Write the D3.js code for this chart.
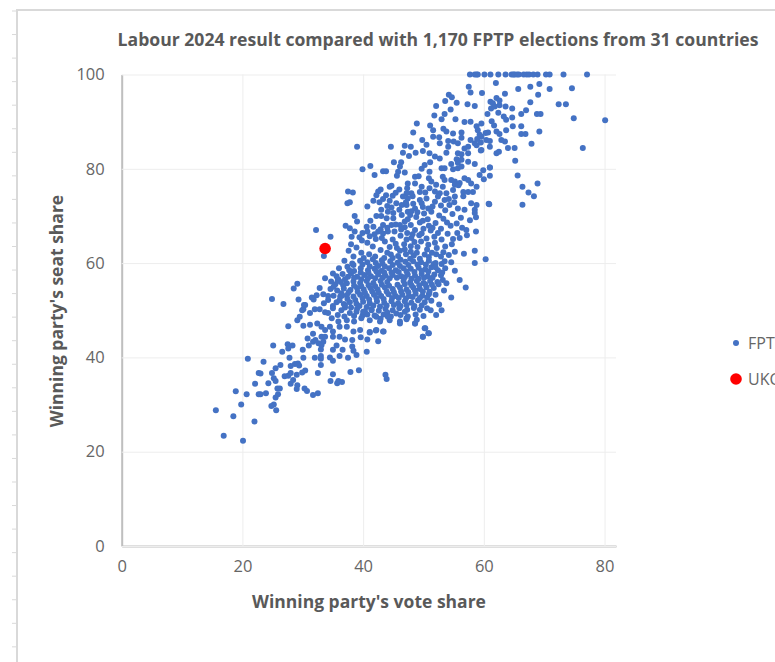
<!DOCTYPE html>
<html>
<head>
<meta charset="utf-8">
<script src="https://cdn.jsdelivr.net/npm/d3@7"></script>
<style>
  html, body { margin: 0; padding: 0; background: #fff; overflow: hidden; }
  text { font-family: "Open Sans", sans-serif; }
</style>
</head>
<body>
<div id="chart"></div>
<script>
var chartTitle = "Labour 2024 result compared with 1,170 FPTP elections from 31 countries";
var xLabel = "Winning party's vote share";
var yLabel = "Winning party's seat share";
var xTicks = [0, 20, 40, 60, 80];
var yTicks = [0, 20, 40, 60, 80, 100];
var legendNames = ["FPT", "UKC"];
var ukResult = [[33.7, 63.1]];

// [vote share, seat share]
var seatsAt100 = [57.7, 58.5, 58.8, 59.0, 60.1, 61.1, 62.4, 63.6, 64.6, 64.9, 65.1, 65.5, 65.8, 66.6, 67.1, 67.5, 68.2, 68.9, 70.3, 70.9, 73.2, 77.1];

var upperPoints = [
  [62.0,98.2],[57.5,97.4],[57.8,96.2],[59.7,96.1],[65.7,96.9],[67.7,97.4],[69.2,98.0],[70.9,96.9],[74.6,97.1],[69.0,95.7],
  [63.5,95.9],[54.2,95.7],[54.7,95.2],[53.6,94.4],[55.5,94.0],[52.1,93.3],[57.3,93.7],[58.5,93.3],[54.5,92.6],[67.7,94.1],
  [72.4,93.7],[73.6,93.7],[80.1,90.3],[74.9,90.7],[76.4,84.4],
  [61.1,94.2],[61.5,93.9],[62.1,95.0],[62.6,94.5],[61.8,93.2],[61.2,92.8],[62.6,93.5],[63.6,93.2],[64.7,92.8],[60.6,91.6],
  [62.4,91.9],[63.3,91.1],[63.7,90.4],[64.7,90.9],[66.2,91.6],[67.0,92.4],[68.8,91.6],[69.4,91.6],[61.3,90.1],[61.7,89.2],
  [64.8,89.0],[66.2,89.0],[63.7,88.2],[62.1,87.9],[62.6,87.4],[66.2,87.4],[66.9,87.4],[69.2,87.9],[60.7,87.7],[67.9,85.3],
  [62.9,86.1],[63.5,85.8],[61.0,84.7],[64.0,84.4],[65.1,84.4],[62.1,83.3],[62.5,83.6],[59.5,83.9],[65.2,81.7],[61.0,80.3],
  [65.6,78.6],[66.4,76.2],[68.9,76.9],[67.4,75.0],[68.3,74.2],[66.4,72.4],[60.8,72.6],
  [56.8,89.9],[57.8,90.0],[58.8,89.0],[59.6,89.6],[59.0,88.2],[55.3,90.5],[53.0,90.5],[51.8,91.3],[53.5,91.6],[48.9,89.6],
  [51.1,89.2],[51.6,88.2],[48.3,87.7],[53.3,88.5],[53.8,87.9],[54.9,87.5],[56.3,87.7],[56.3,86.6],[51.6,86.8],[52.6,86.7],
  [54.1,85.9],[55.0,85.8],[55.7,85.4],[57.8,86.1],[58.5,85.4],[59.6,86.8],[60.4,86.1],[61.0,85.9],[49.8,86.1],[50.5,85.1],
  [52.7,85.4],[54.1,84.7],[57.4,84.7],[56.8,84.3],[58.8,85.0],[59.3,87.2],[58.9,86.3],[60.3,87.6],[59.5,85.6],
  [39.0,84.7],[44.6,84.7],[46.9,84.9],[47.9,84.7]
];

var middlePoints = [
  [46.6,83.4],[47.6,82.7],[48.7,83.4],[49.9,83.8],[51.0,83.3],[51.9,82.6],[52.7,82.2],[53.8,83.4],[55.7,83.3],[56.3,83.1],
  [55.5,82.0],[56.3,81.9],[54.6,81.0],[55.7,81.3],[57.4,81.5],[58.5,81.0],[57.4,83.3],[59.6,84.0],
  [45.1,81.4],[46.3,81.4],[41.2,80.6],[39.9,79.9],[41.9,78.7],[43.3,79.5],[43.8,79.5],[46.1,80.5],[45.8,79.4],[45.6,78.5],[46.9,79.2],
  [49.7,80.0],[50.2,80.8],[51.1,81.4],[51.0,79.4],[53.0,80.1],[53.5,80.1],[54.9,79.9],[55.7,80.1],[56.3,80.5],
  [59.3,78.7],[59.9,79.7],[61.0,80.3],[61.0,78.5],[60.0,77.8],[48.6,78.3],[49.2,78.4],[47.4,76.9],[48.6,76.9],[50.9,78.0],
  [51.3,77.3],[52.1,76.6],[53.2,78.3],[53.5,77.6],[53.2,76.2],[54.6,77.6],[55.2,77.3],[56.0,77.0],[56.8,78.0],[57.4,77.6],
  [55.2,76.6],[55.8,76.5],[58.8,76.2],[57.9,76.9],[58.2,75.1],[57.4,75.1],[56.6,75.1],[56.6,74.2],[54.9,75.5],[53.8,74.8],
  [52.7,74.8],[51.0,75.9],[49.7,76.2],[49.4,75.1],[48.0,74.8],[47.2,74.8],[46.6,74.1],[44.7,76.4],[44.4,76.2],[42.9,75.6],
  [42.5,75.2],[42.2,74.4],[41.7,73.2],[40.7,72.0],[43.8,74.4],[44.9,74.3],[44.4,73.2],
  [37.5,75.2],[38.3,75.0],[37.4,72.7],[37.8,72.9],[38.6,70.0],[39.0,68.8],[37.1,67.9],[37.8,67.4],[38.6,66.7],[38.1,65.6],
  [40.6,67.7],[41.2,69.0],[40.7,66.7],[41.7,67.7],[42.2,70.0],[43.0,70.0],[43.0,71.3],[44.7,71.8],[44.1,70.9],[45.0,70.6],
  [45.0,69.5],[43.9,69.5],[44.7,68.1],[43.3,68.1],[42.5,66.7],[43.3,66.3],[44.1,66.7],[45.2,66.7],[46.1,68.1],[46.9,68.8],
  [46.4,70.2],[47.4,70.9],[46.4,72.3],[47.4,73.7],[47.2,72.3],[48.6,71.6],[49.4,73.4],[49.7,72.7],[50.5,73.7],[50.8,71.6],
  [51.9,73.0],[52.4,74.1],[53.5,73.4],[54.3,72.3],[55.2,74.1],[55.7,71.6],[56.8,71.3],[57.9,72.7],[58.8,72.3],[60.9,72.5],
  [58.5,71.3],[58.5,70.6],[57.7,69.1],[58.7,69.7],[57.1,67.0],[58.7,66.7],[56.2,69.6],[55.5,68.4],[54.8,70.4],[53.6,71.2],
  [52.6,70.1],[51.5,72.0],[50.1,70.5],[48.8,69.8],[47.9,68.1],[49.4,68.6],[50.7,69.3],[52.0,68.5],[53.3,69.4],[54.5,67.9],
  [56.4,67.5],[55.6,66.4],[54.0,66.2],[52.9,67.3],[51.2,66.9],[50.0,67.3],[48.6,67.0],[47.3,66.4],[46.2,65.8],[48.0,65.3],
  [49.3,65.9],[50.5,65.2],[51.8,65.6],[53.0,65.0],[54.9,65.1],[56.0,65.3],[57.2,65.9],
  [42.1,65.1],[43.6,64.6],[44.9,65.0],[46.8,64.0],[47.9,63.6],[45.6,63.2],[44.4,63.4],[42.9,62.8],[41.6,63.5],[40.7,64.3],
  [49.0,63.4],[50.8,63.9],[52.2,63.2],[53.6,63.5],[54.7,64.0],[55.2,62.4],[56.7,62.0],[58.5,62.6],[54.2,61.7],[52.9,61.4],
  [51.4,62.2],[50.2,61.8],[48.4,61.6],[47.1,61.9],[45.8,61.5],[44.6,61.8],[43.5,61.1],[42.0,61.4],[41.0,61.9],[39.7,62.2],
  [38.4,61.4],[37.6,62.6],[38.9,63.3],[39.8,64.8],[38.0,64.0],[36.9,60.5],
  [58.5,60.0],[60.3,60.8],[54.6,60.2],[53.5,60.4],[52.0,60.0],[50.9,60.5],[49.6,60.2],[48.3,60.4],[47.0,60.3],[45.7,60.1],
  [44.5,60.4],[43.2,59.9],[42.1,60.0],[40.7,60.2],[39.5,60.5],[38.2,59.9],[37.4,59.2],[38.4,59.6],[36.0,58.9],[35.0,57.8],
  [33.7,56.8],[35.9,56.5],[37.5,57.1],[55.2,58.4],[56.0,56.4],[57.0,54.8],[54.6,52.7],[53.4,54.2],[53.8,55.7],[53.2,56.4]
];

var densePoints = [
  [53.6,58.9],[52.4,58.5],[51.3,59.1],[50.3,58.7],[49.2,59.0],[47.9,58.8],[46.7,58.9],[45.4,58.5],[44.3,58.9],[43.1,58.4],
  [41.9,58.8],[40.8,58.5],[39.6,58.9],[38.5,58.3],[52.9,57.4],[51.8,57.6],[50.7,57.2],[49.7,57.7],[48.6,57.3],[47.4,57.6],
  [46.3,57.2],[44.9,57.5],[43.7,57.3],[42.5,57.6],[41.3,57.2],[40.2,57.5],[39.0,57.1],[38.0,57.8],[36.6,57.7],
  [52.3,56.0],[51.1,56.2],[50.0,55.8],[48.9,56.2],[47.8,55.9],[46.7,56.2],[44.0,56.0],[42.9,56.2],[41.7,55.8],[40.6,56.2],
  [39.5,55.8],[38.4,56.1],[37.3,55.7],[36.3,56.0],[34.7,56.1],[51.7,54.7],[50.5,54.9],[49.4,54.5],[48.3,54.8],[47.2,54.4],
  [46.1,54.8],[44.9,54.5],[43.6,54.8],[42.4,54.4],[41.2,54.7],[40.1,54.4],[39.0,54.7],[37.9,54.3],[36.8,54.6],[35.7,54.2],
  [34.6,54.5],[52.0,53.3],[50.9,53.4],[49.8,53.1],[48.7,53.5],[47.6,53.0],[46.5,53.3],[45.4,53.0],[44.2,53.4],[43.0,53.0],
  [41.8,53.3],[40.6,53.0],[39.5,53.3],[38.4,52.9],[37.3,53.2],[36.2,52.9],[35.1,53.1],
  [51.3,52.0],[50.2,51.7],[49.1,52.1],[48.0,51.6],[46.9,51.9],[45.8,51.5],[44.7,51.9],[43.5,51.6],[42.3,51.9],[41.1,51.5],
  [40.0,51.8],[38.9,51.4],[37.8,51.7],[36.8,51.3],[35.6,51.7],[35.0,50.9],[52.6,51.2],
  [50.6,50.4],[49.4,50.1],[48.4,50.5],[47.3,50.1],[46.0,50.4],[44.9,50.0],[43.7,50.3],[42.6,49.9],[41.4,50.2],[40.3,49.8],[39.0,50.3],
  [51.2,50.0],[53.0,50.0],[52.1,49.0],[50.0,48.8],[48.7,49.1],[47.4,48.7],[46.2,49.0],[44.6,48.7],[43.4,49.1],[41.9,48.9],
  [47.2,48.3],[48.6,47.2],[46.1,47.2],[50.2,46.2],[50.9,45.1],[49.9,44.4],[43.3,45.5],[42.2,45.8],[41.1,45.4]
];

// second pass over the crowded middle of the cloud
var clusterPoints = [
  [47.1,72.9],[48.3,72.6],[49.0,70.8],[47.8,70.2],[46.0,71.3],[51.3,70.9],[52.9,72.2],[49.9,71.9],[45.5,72.7],[48.2,74.2],
  [50.3,75.0],[46.0,75.6],[47.3,75.9],[44.0,72.1],[42.7,72.9],[43.3,73.6],[45.4,74.9],[51.9,75.2],[54.2,73.6],[55.1,72.9],
  [46.9,67.6],[48.2,66.1],[49.7,66.3],[50.9,67.9],[47.4,69.3],[48.0,71.0],[49.9,69.0],[51.5,67.5],[53.9,68.6],[52.4,66.4],
  [46.3,67.1],[45.4,68.2],[44.0,67.5],[42.9,67.2],[41.9,66.1],[39.9,66.4],[39.4,65.5],[41.1,65.7],[46.9,62.9],[47.9,62.4],
  [49.6,64.6],[48.5,64.5],[50.6,62.9],[51.9,64.3],[47.2,65.0],[45.4,64.1],[43.1,65.3],[44.0,62.2],[46.1,62.6],[48.9,62.2],
  [52.1,61.9],[53.3,62.3],[50.9,61.3],[49.4,60.9],[47.8,60.9],[46.2,60.7],[44.9,61.1],[43.1,60.6],[41.6,60.8],[40.1,61.1],
  [53.0,59.8],[51.7,59.8],[50.4,59.7],[49.0,59.7],[47.5,59.6],[46.1,59.4],[44.9,59.6],[43.6,59.3],[42.5,59.4],[41.1,59.3],
  [39.9,59.7],[52.0,59.1],[50.8,58.2],[49.7,58.3],[48.5,58.1],[47.2,58.2],[45.9,58.1],[44.7,58.0],[43.5,58.0],[42.2,58.2],
  [40.9,57.9],[39.6,58.0],[37.7,58.5],[53.1,58.0],[51.5,56.9],[50.1,56.9],[49.2,56.7],[48.0,56.7],[46.9,57.0],[45.6,56.9],
  [44.4,56.8],[43.2,56.9],[42.0,56.8],[40.8,56.8],[39.7,56.6],[38.5,56.9],[37.0,56.6],[35.6,57.2],[52.5,55.5],[51.4,55.4],
  [50.3,55.5],[49.3,55.3],[48.0,55.3],[46.9,55.5],[45.7,55.4],[44.3,55.2],[43.1,55.4],[42.0,55.1],[40.9,55.3],[39.7,55.1],
  [38.5,55.2],[36.7,55.3],[35.4,55.5],[51.0,53.9],[49.9,54.0],[48.6,54.2],[47.5,53.8],[46.3,54.0],[45.1,53.8],[43.9,54.0],
  [42.6,53.7],[41.5,54.0],[40.3,53.7],[39.1,53.9],[37.6,53.8],[36.4,53.6],[50.6,52.7],[49.4,52.6],[48.2,52.8],[47.1,52.5],
  [45.9,52.6],[44.8,52.6],[43.4,52.4],[42.2,52.6],[41.0,52.3],[39.9,52.6],[38.7,52.2],[37.4,52.4],[36.1,52.1],[49.7,51.0],
  [48.5,50.9],[47.2,51.1],[46.2,50.9],[45.1,51.1],[43.9,51.0],[42.8,50.8],[41.7,51.0],[40.6,50.7],[39.4,50.9],[38.0,50.6],
  [37.0,50.6],[44.0,49.5],[42.9,48.2],[40.7,49.1],[39.9,48.9],[38.5,48.8],[36.9,48.7],[35.8,49.0],[46.9,49.7],[48.9,48.0]
];

var lowerPoints = [
  [15.6,28.8],[16.9,23.4],[18.5,27.5],[18.9,32.8],[19.8,30.0],[20.1,22.3],[22.0,26.4],[20.7,32.2],[22.7,32.2],[23.0,32.2],
  [23.9,32.4],[22.1,34.4],[24.3,34.5],[22.7,36.7],[23.0,36.6],[20.9,39.7],[23.5,39.1],[24.9,36.7],[25.5,37.7],[26.3,38.4],
  [25.1,42.5],[26.6,41.2],[27.8,39.9],[28.0,38.2],[28.7,38.6],[29.2,38.7],[29.4,38.3],[30.1,39.9],[30.0,41.6],[27.5,42.8],
  [27.6,41.9],[28.3,42.5],[24.8,29.7],[25.2,30.0],[25.6,28.8],[25.5,31.5],[25.9,32.2],[25.8,33.4],[26.2,33.4],[25.2,35.6],
  [25.5,35.0],[27.0,36.0],[27.6,36.1],[28.0,36.7],[29.0,36.3],[29.9,36.8],[30.4,37.2],[28.0,34.4],[28.4,35.2],[29.1,34.1],
  [29.0,33.3],[30.3,33.4],[30.7,32.9],[31.7,32.0],[32.5,32.4],[32.5,36.7],[33.0,38.4],[32.0,39.9],[33.0,40.3],[33.0,39.7],
  [34.6,35.0],[35.0,36.4],[35.7,34.5],[35.9,35.0],[36.5,34.8],[37.9,36.9],[39.3,37.3],[43.7,36.3],[43.9,35.4],[35.0,39.3],
  [34.5,40.0],[36.1,40.3],[37.5,39.9],[38.9,40.5],[40.6,41.2],[31.0,42.5],[32.6,43.0],[33.0,41.7],[33.1,42.6],[35.0,41.6],
  [35.6,42.5],[36.6,41.6],[38.2,42.3],[38.4,41.4],[42.5,43.4],[40.7,43.8],[39.6,44.3],[38.2,43.7],[37.0,43.8],[36.1,44.4],
  [30.8,44.0],[31.7,43.3],[32.1,43.7],[33.1,44.4],[33.7,44.4],[33.4,43.3],[31.7,45.0],[27.6,46.6],[29.1,47.9],[29.5,48.6],
  [30.1,50.2],[30.4,51.1],[24.9,52.4],[26.8,51.3],[29.3,52.3],[28.5,54.6],[29.1,55.6],[31.5,52.7],[31.8,52.3],[32.3,53.2],
  [32.8,54.7],[33.4,53.4],[34.2,53.0],[34.2,52.2],[33.5,51.5],[31.2,49.4],[32.0,50.2],[32.8,50.2],[33.7,49.6],[34.2,49.4],
  [35.0,50.4],[30.1,46.7],[31.2,46.9],[32.4,47.2],[33.1,46.5],[33.7,45.8],[34.5,46.5],[35.0,45.5],[35.0,44.4],[34.8,48.3],
  [35.9,47.6],[37.3,47.9],[38.5,47.6],[39.7,48.3],[41.1,47.9],[42.2,48.6],[42.8,47.6],[36.1,46.5],[37.3,46.5],[38.4,45.5],
  [39.5,45.8],[41.1,45.3],[42.1,45.7],[43.4,45.5],[36.4,50.0],[37.8,49.4],[38.9,49.7],[40.0,49.7],[41.4,50.0],[37.0,51.1],
  [36.5,53.1],[35.1,55.0],[35.8,56.3],[44.4,47.9],[46.1,47.6],[47.2,48.1],[48.6,47.2],[50.3,46.2],[49.9,44.4],[50.8,45.1],
  [44.1,48.6],[45.5,49.3],[32.2,67.0],[34.6,65.6],[33.5,61.5],[30.2,51.1],[29.9,50.0]
];

var margin = { top: 74.5, right: 159, bottom: 116, left: 121.7 };
var svgWidth = 775, svgHeight = 662;
var plotWidth = svgWidth - margin.left - margin.right;
var plotHeight = svgHeight - margin.top - margin.bottom;

var svg = d3.select("#chart").append("svg")
  .attr("width", svgWidth)
  .attr("height", svgHeight)
  .style("display", "block");

// worksheet frame with ruler marks behind the chart
svg.append("path").attr("d", "M775,10H17V662").attr("fill", "none").attr("stroke", "#d9d9d9").attr("stroke-width", 2);
svg.selectAll(".ruler").data(d3.range(0, 28)).enter().append("line")
  .attr("x1", 12).attr("x2", 17)
  .attr("y1", function(d) { return 11 + d * 23.55; })
  .attr("y2", function(d) { return 11 + d * 23.55; })
  .attr("stroke", "#d9d9d9");

var g = svg.append("g").attr("transform", "translate(" + margin.left + "," + margin.top + ")");

var x = d3.scaleLinear().domain([0, 81.9]).range([0, plotWidth]);
var y = d3.scaleLinear().domain([0, 100]).range([plotHeight, 0]);

var xAxis = g.append("g")
  .attr("transform", "translate(0," + plotHeight + ")")
  .call(d3.axisBottom(x).tickValues(xTicks).tickSizeInner(-plotHeight).tickSizeOuter(0).tickPadding(14));
var yAxis = g.append("g")
  .call(d3.axisLeft(y).tickValues(yTicks).tickSizeInner(-plotWidth).tickSizeOuter(0).tickPadding(17));

[xAxis, yAxis].forEach(function(axis) {
  axis.selectAll("line").attr("stroke", "#ededed");
  axis.selectAll("text").attr("fill", "#666666").style("font-size", "16.5px").style("font-family", "'Open Sans', sans-serif");
  axis.select(".domain").attr("stroke", "#bfbfbf").attr("stroke-width", 2);
});

var fptpPoints = seatsAt100.map(function(v) { return [v, 100]; })
  .concat(upperPoints, middlePoints, densePoints, clusterPoints, lowerPoints);

g.selectAll(".fptp").data(fptpPoints).enter().append("circle")
  .attr("class", "fptp")
  .attr("cx", function(d) { return x(d[0]); })
  .attr("cy", function(d) { return y(d[1]); })
  .attr("r", 3)
  .attr("fill", "#4472c4");

g.selectAll(".uk").data(ukResult).enter().append("circle")
  .attr("class", "uk")
  .attr("cx", function(d) { return x(d[0]); })
  .attr("cy", function(d) { return y(d[1]); })
  .attr("r", 5.8)
  .attr("fill", "#ff0000");

svg.append("text").attr("x", 438).attr("y", 46).attr("text-anchor", "middle")
  .attr("fill", "#595959").style("font-size", "17.6px").style("font-weight", 700)
  .text(chartTitle);
svg.append("text").attr("x", 369).attr("y", 608).attr("text-anchor", "middle")
  .attr("fill", "#595959").style("font-size", "17.5px").style("font-weight", 700)
  .text(xLabel);
svg.append("text").attr("transform", "translate(63,311) rotate(-90)").attr("text-anchor", "middle")
  .attr("fill", "#595959").style("font-size", "17.5px").style("font-weight", 700)
  .text(yLabel);

// legend, runs off the right side of the window like the original
var legendY = [343, 379], legendR = [3, 5.8], legendColors = ["#4472c4", "#ff0000"];
legendNames.forEach(function(name, i) {
  svg.append("circle").attr("cx", 736).attr("cy", legendY[i]).attr("r", legendR[i]).attr("fill", legendColors[i]);
  svg.append("text").attr("x", 748).attr("y", legendY[i] + 6).attr("fill", "#666666").style("font-size", "16px").text(name);
});
</script>
</body>
</html>
